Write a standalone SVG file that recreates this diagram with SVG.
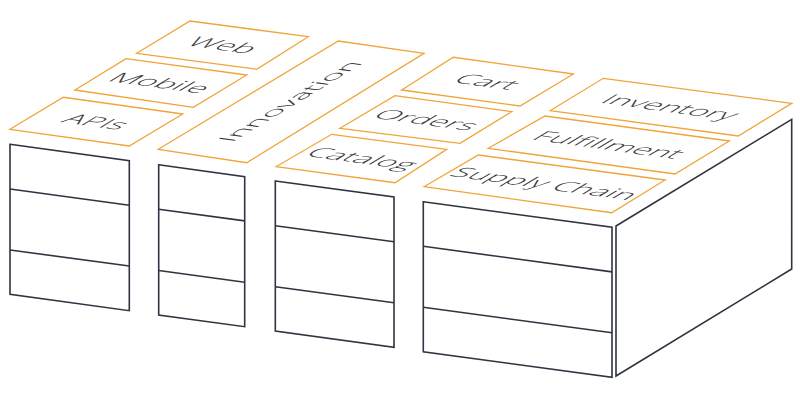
<svg xmlns="http://www.w3.org/2000/svg" width="800" height="400" viewBox="0 0 800 400">
  <style>
    .box { fill: #ffffff; stroke: #2f3440; stroke-width: 1.6; stroke-linejoin: miter; }
    .div { stroke: #2f3440; stroke-width: 1.6; fill: none; }
    .tile { fill: #ffffff; stroke: #f0a43a; stroke-width: 1.3; }
    .lbl { font-family: "Open Sans", "Liberation Sans", sans-serif; font-weight: 300; font-size: 21px; fill: #3a3a3a; text-anchor: middle; }
  </style>
  <rect width="800" height="400" fill="#ffffff"/>

  <!-- front stacks -->
  <g id="stack-1">
    <polygon class="box" points="10,144.3 129.3,160.7 129.3,310.7 10,294.3"/>
    <line class="div" x1="10" y1="189" x2="129.3" y2="205.3"/>
    <line class="div" x1="10" y1="250" x2="129.3" y2="266"/>
  </g>
  <g id="stack-2">
    <polygon class="box" points="158.7,164.7 244.7,176.7 244.7,326.7 158.7,315"/>
    <line class="div" x1="158.7" y1="209.3" x2="244.7" y2="220.9"/>
    <line class="div" x1="158.7" y1="270.5" x2="244.7" y2="282.2"/>
  </g>
  <g id="stack-3">
    <polygon class="box" points="275.3,181 394,197 394,347.3 275.3,331"/>
    <line class="div" x1="275.3" y1="225.7" x2="394" y2="241.7"/>
    <line class="div" x1="275.3" y1="286.7" x2="394" y2="302.7"/>
  </g>
  <g id="stack-4">
    <polygon class="box" points="423.3,201.7 612,227.3 612,377.3 423.3,351.7"/>
    <line class="div" x1="423.3" y1="246.3" x2="612" y2="271.9"/>
    <line class="div" x1="423.3" y1="307.2" x2="612" y2="332.8"/>
    <polygon class="box" points="616,226 791.7,119.3 791.7,269 616,376"/>
  </g>

  <!-- top tiles -->
  <g id="web">
    <polygon class="tile" points="136.7,53.3 190,21 308.3,36.7 256.7,69.3"/>
    <text class="lbl" transform="matrix(1.47 0.201 -0.94 0.57 222.9 45.1)" x="0" y="7.5">Web</text>
  </g>
  <g id="mobile">
    <polygon class="tile" points="75,90 126,58.7 246.7,75 193.3,107.3"/>
    <text class="lbl" transform="matrix(1.47 0.201 -0.94 0.57 160.3 82.8)" x="0" y="7.5">Mobile</text>
  </g>
  <g id="apis">
    <polygon class="tile" points="10,129.3 63.3,97.3 182.7,114 129.3,146"/>
    <text class="lbl" transform="matrix(1.47 0.201 -0.94 0.57 96.3 121.7)" x="0" y="7.5">APIs</text>
  </g>
  <g id="innovation">
    <polygon class="tile" points="158.3,149.3 338.3,41 424,53.3 246.7,162.7"/>
    <text class="lbl" transform="matrix(1.326 -0.802 1.04 0.1425 290 101.6)" x="0" y="7.5">Innovation</text>
  </g>
  <g id="cart">
    <polygon class="tile" points="401.7,90 453.3,57.3 573.3,74 520,106"/>
    <text class="lbl" transform="matrix(1.47 0.201 -0.94 0.57 487.1 81.8)" x="0" y="7.5">Cart</text>
  </g>
  <g id="orders">
    <polygon class="tile" points="340,128.3 395,95.7 511.7,111.7 460,143.3"/>
    <text class="lbl" transform="matrix(1.47 0.201 -0.94 0.57 426.7 119.8)" x="0" y="7.5">Orders</text>
  </g>
  <g id="catalog">
    <polygon class="tile" points="276,166.7 331.7,134.3 446.7,149.3 395,182.7"/>
    <text class="lbl" transform="matrix(1.47 0.201 -0.94 0.57 362.4 158.3)" x="0" y="7.5">Catalog</text>
  </g>
  <g id="inventory">
    <polygon class="tile" points="550,110.7 603.3,78.3 791.7,103.3 738.3,136"/>
    <text class="lbl" transform="matrix(1.47 0.201 -0.94 0.57 670.8 107.1)" x="0" y="7.5">Inventory</text>
  </g>
  <g id="fulfillment">
    <polygon class="tile" points="488.3,148.3 545,116 729.3,141 675,174"/>
    <text class="lbl" transform="matrix(1.47 0.201 -0.94 0.57 609.2 144.8)" x="0" y="7.5">Fulfillment</text>
  </g>
  <g id="supply-chain">
    <polygon class="tile" points="424,186.7 478.3,155 665,180 611.7,212.7"/>
    <text class="lbl" transform="matrix(1.47 0.201 -0.94 0.57 544.8 183.6)" x="0" y="7.5">Supply Chain</text>
  </g>
</svg>
